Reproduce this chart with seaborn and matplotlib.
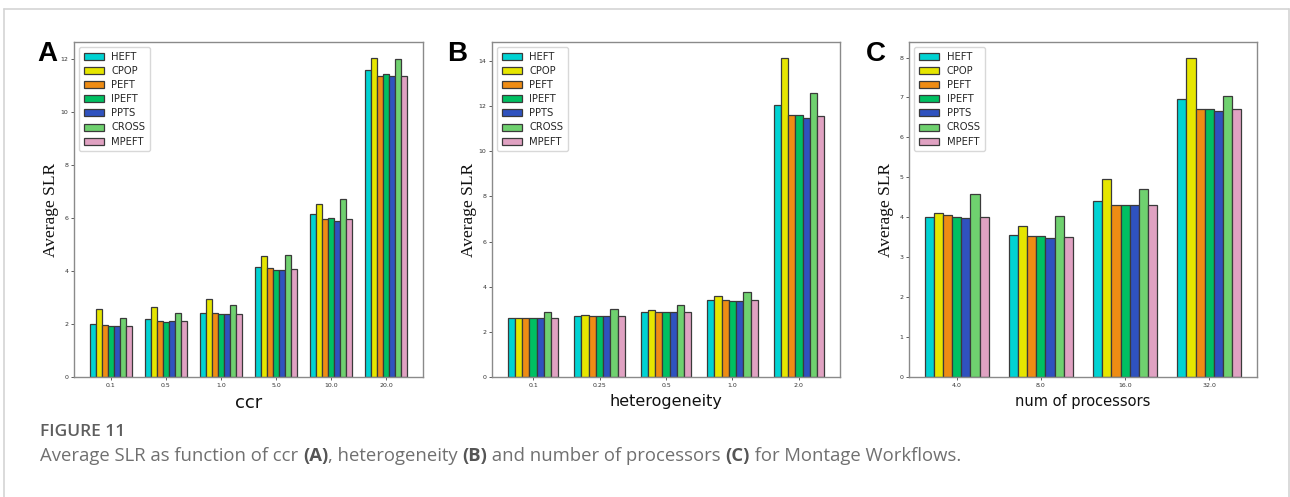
import numpy as np
import pandas as pd
import matplotlib
matplotlib.use("Agg")
import matplotlib.pyplot as plt
import seaborn as sns

# ---- data -------------------------------------------------------------
algorithms = ["HEFT", "CPOP", "PEFT", "IPEFT", "PPTS", "CROSS", "MPEFT"]
colors = ["#00d3d3", "#e6e600", "#ee8c14", "#00c062", "#2f52bf", "#6fd16f", "#e0a2c2"]

ccr_labels = ["0.1", "0.5", "1.0", "5.0", "10.0", "20.0"]
ccr_slr = {
    "HEFT":  [2.01, 2.18, 2.43, 4.15, 6.16, 11.59],
    "CPOP":  [2.57, 2.65, 2.96, 4.56, 6.52, 12.04],
    "PEFT":  [1.97, 2.11, 2.40, 4.10, 5.98, 11.37],
    "IPEFT": [1.94, 2.08, 2.36, 4.05, 5.99, 11.44],
    "PPTS":  [1.94, 2.11, 2.38, 4.05, 5.88, 11.35],
    "CROSS": [2.21, 2.40, 2.70, 4.59, 6.70, 12.00],
    "MPEFT": [1.93, 2.11, 2.38, 4.08, 5.96, 11.37],
}

het_labels = ["0.1", "0.25", "0.5", "1.0", "2.0"]
het_slr = {
    "HEFT":  [2.62, 2.71, 2.89, 3.42, 12.04],
    "CPOP":  [2.62, 2.74, 2.95, 3.60, 14.13],
    "PEFT":  [2.61, 2.71, 2.89, 3.40, 11.61],
    "IPEFT": [2.61, 2.71, 2.87, 3.37, 11.61],
    "PPTS":  [2.62, 2.71, 2.89, 3.37, 11.45],
    "CROSS": [2.89, 3.01, 3.18, 3.77, 12.56],
    "MPEFT": [2.62, 2.71, 2.89, 3.39, 11.54],
}

proc_labels = ["4.0", "8.0", "16.0", "32.0"]
proc_slr = {
    "HEFT":  [4.01, 3.56, 4.41, 6.97],
    "CPOP":  [4.11, 3.79, 4.95, 7.99],
    "PEFT":  [4.05, 3.52, 4.31, 6.71],
    "IPEFT": [4.01, 3.52, 4.31, 6.71],
    "PPTS":  [3.98, 3.49, 4.30, 6.67],
    "CROSS": [4.58, 4.03, 4.71, 7.04],
    "MPEFT": [4.00, 3.51, 4.31, 6.70],
}

panels = [
    ("A", "ccr", ccr_labels, ccr_slr),
    ("B", "heterogeneity", het_labels, het_slr),
    ("C", "num of processors", proc_labels, proc_slr),
]

caption_title = "FIGURE 11"
caption_parts = [
    ("Average SLR as function of ccr ", False),
    ("(A)", True),
    (", heterogeneity ", False),
    ("(B)", True),
    (" and number of processors ", False),
    ("(C)", True),
    (" for Montage Workflows.", False),
]

# ---- figure -----------------------------------------------------------
sns.set_theme(style="white")
plt.rcParams["font.family"] = ["DejaVu Sans"]

W, H = 1290, 497
fig = plt.figure(figsize=(W / 100, H / 100), dpi=100)
fig.patch.set_facecolor("white")


def px_rect(x0, y0, x1, y1):
    return [x0 / W, 1 - y1 / H, (x1 - x0) / W, (y1 - y0) / H]


# outer frame of the figure box (open at the bottom edge)
frame_col = "#d4d4d4"
for xs_, ys_ in [([4, 4], [497, 9]), ([1288.5, 1288.5], [497, 9]), ([4, 1288.5], [9, 9])]:
    fig.add_artist(plt.Line2D([x / W for x in xs_], [1 - y / H for y in ys_],
                              transform=fig.transFigure, color=frame_col, lw=1.2))

axes_px = [(74, 42, 423, 377), (492, 42, 840, 377), (909, 42, 1257, 377)]
letter_x = [37, 447, 866]
xlabel_size = [13, 11.5, 10.5]
bar_width = 0.76

for (letter, xlabel, cats, values), box, lx, xs in zip(panels, axes_px, letter_x, xlabel_size):
    ax = fig.add_axes(px_rect(*box))
    df = pd.DataFrame(
        [(c, a, values[a][i]) for a in algorithms for i, c in enumerate(cats)],
        columns=["cat", "alg", "slr"],
    )
    sns.barplot(data=df, x="cat", y="slr", hue="alg", order=cats, hue_order=algorithms,
                palette=colors, width=bar_width, edgecolor="#3a3a3a", linewidth=0.9,
                saturation=1, errorbar=None, ax=ax)

    n = len(cats)
    span = (n - 1) + bar_width
    pad = 0.05 * span
    ax.set_xlim(-bar_width / 2 - pad, n - 1 + bar_width / 2 + pad)
    ymax = max(max(v) for v in values.values())
    ax.set_ylim(0, ymax * 1.05)

    for s in ax.spines.values():
        s.set_color("#8a8a8a")
        s.set_linewidth(1.0)
    ax.tick_params(axis="both", which="both", labelsize=4.5, length=2.5, width=0.6,
                   color="#444444", labelcolor="#333333", left=True, bottom=True, pad=1.5)

    ax.set_ylabel("Average SLR", family="Liberation Serif", fontsize=12.5, color="#111111")
    ax.yaxis.set_label_coords(-0.042, 0.5)
    ax.set_xlabel(xlabel, fontsize=xs, color="#111111", va="top")
    ax.xaxis.set_label_coords(0.5, -0.052)

    handles, labels = ax.get_legend_handles_labels()
    ax.legend(handles, labels, loc="upper left", fontsize=7.2, frameon=True,
              edgecolor="#d8d8d8", framealpha=1, borderpad=0.45, handlelength=2.0,
              handleheight=0.7, labelspacing=0.42, fancybox=True)

    fig.text(lx / W, 1 - 41 / H, letter, fontsize=20, fontweight="bold",
             family="Liberation Sans", va="top", ha="left", color="black")

# caption
fig.text(40 / W, 1 - 432 / H, caption_title, fontsize=12.5, fontweight="semibold",
         family="Open Sans", color="#5e5e5e", va="center", ha="left")

renderer = fig.canvas.get_renderer()
x_px = 40.0
for txt, bold in caption_parts:
    t = fig.text(x_px / W, 1 - 456 / H, txt, fontsize=13.3, family="Open Sans",
                 fontweight="bold" if bold else "normal",
                 color="#555555" if bold else "#707070", va="center", ha="left")
    bb = t.get_window_extent(renderer=renderer)
    x_px += bb.width

fig.savefig("out.png", dpi=100, facecolor="white")
